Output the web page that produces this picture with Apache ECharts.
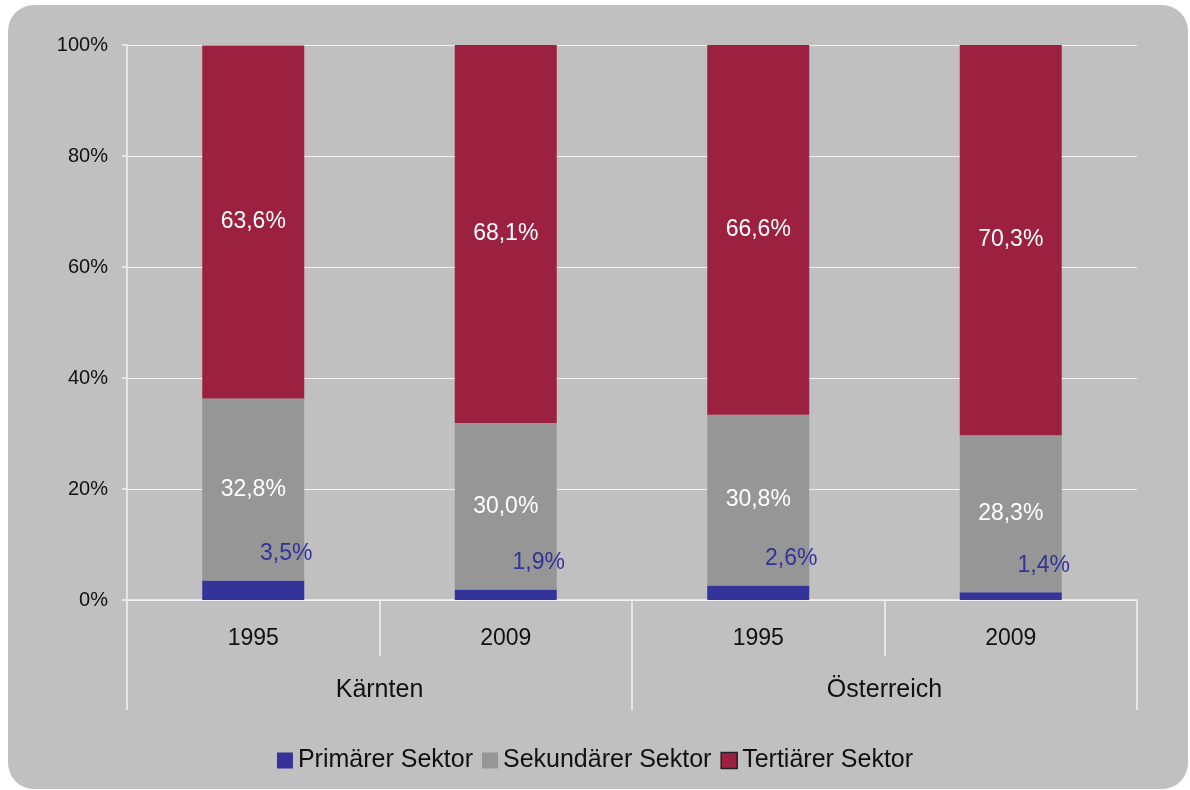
<!DOCTYPE html>
<html>
<head>
<meta charset="utf-8">
<script src="https://cdn.jsdelivr.net/npm/echarts@6/dist/echarts.min.js"></script>
<style>
  html, body {margin: 0; padding: 0; background: #ffffff;}
  #bg {position: absolute; left: 8px; top: 5px; width: 1180px; height: 784px; background: #c0c0c0; border-radius: 26px;}
  #main {position: absolute; left: 0; top: 0; width: 1190px; height: 790px;}
</style>
</head>
<body>
<div id="bg"></div>
<div id="main"></div>
<script>
// Daten (Anteile in %)
const years = ['1995', '2009', '1995', '2009']
const groups = ['Kärnten', 'Österreich']
const primaer = [3.5, 1.9, 2.6, 1.4]
const sekundaer = [32.8, 30.0, 30.8, 28.3]
const tertiaer = [63.6, 68.1, 66.6, 70.3]
const yTicks = [0, 20, 40, 60, 80, 100]

const fmt = (v) => v.toFixed(1).replace('.', ',') + '%'
const font = 'Liberation Sans, Arial, sans-serif'

var chartDom = document.getElementById('main');
var myChart = echarts.init(chartDom);

let options = {
  textStyle: {fontFamily: font},
  grid: {left: 127, right: 53, top: 45, bottom: 190},
  legend: {
    bottom: 12,
    left: 'center',
    itemWidth: 16,
    itemHeight: 16,
    itemGap: 9,
    textStyle: {fontSize: 25, color: '#111111', padding: [0, 0, 0, 0]},
    data: [
      {name: 'Primärer Sektor', icon: 'rect'},
      {name: 'Sekundärer Sektor', icon: 'rect'},
      {name: 'Tertiärer Sektor', icon: 'rect', itemStyle: {borderColor: '#222222', borderWidth: 1.5}}
    ]
  },
  xAxis: [
    {
      type: 'category',
      data: years,
      axisLine: {lineStyle: {color: '#f2f2f2', width: 1.5}},
      axisTick: {show: true, interval: 0, length: 56, lineStyle: {color: '#f2f2f2', width: 1.5}},
      axisLabel: {fontSize: 23, color: '#111111', margin: 27}
    },
    {
      type: 'category',
      data: groups,
      position: 'bottom',
      offset: 56,
      axisLine: {show: false},
      axisTick: {show: true, interval: 0, length: 54, lineStyle: {color: '#f2f2f2', width: 1.5}},
      axisLabel: {fontSize: 25, color: '#111111', margin: 22}
    }
  ],
  yAxis: {
    type: 'value',
    min: yTicks[0],
    max: yTicks[yTicks.length - 1],
    interval: 20,
    axisLine: {show: true, lineStyle: {color: '#f2f2f2', width: 1.5}},
    axisTick: {show: true, length: 5, lineStyle: {color: '#f2f2f2', width: 1.5}},
    splitLine: {lineStyle: {color: '#f2f2f2', width: 1}},
    axisLabel: {fontSize: 20, color: '#111111', margin: 19, formatter: '{value}%'}
  },
  series: [
    {
      name: 'Primärer Sektor',
      type: 'bar',
      stack: 'a',
      barWidth: 102,
      data: primaer,
      itemStyle: {color: '#333399'},
      label: {
        show: true, position: 'top', offset: [33, -10],
        fontSize: 23, color: '#333399',
        formatter: (p) => fmt(p.value)
      }
    },
    {
      name: 'Sekundärer Sektor',
      type: 'bar',
      stack: 'a',
      data: sekundaer,
      itemStyle: {color: '#969696'},
      label: {
        show: true, position: 'inside',
        fontSize: 23, color: '#ffffff',
        formatter: (p) => fmt(p.value)
      }
    },
    {
      name: 'Tertiärer Sektor',
      type: 'bar',
      stack: 'a',
      data: tertiaer,
      itemStyle: {color: '#9c2040'},
      label: {
        show: true, position: 'inside',
        fontSize: 23, color: '#ffffff',
        formatter: (p) => fmt(p.value)
      }
    }
  ]
};
myChart.setOption(options);
</script>
</body>
</html>
